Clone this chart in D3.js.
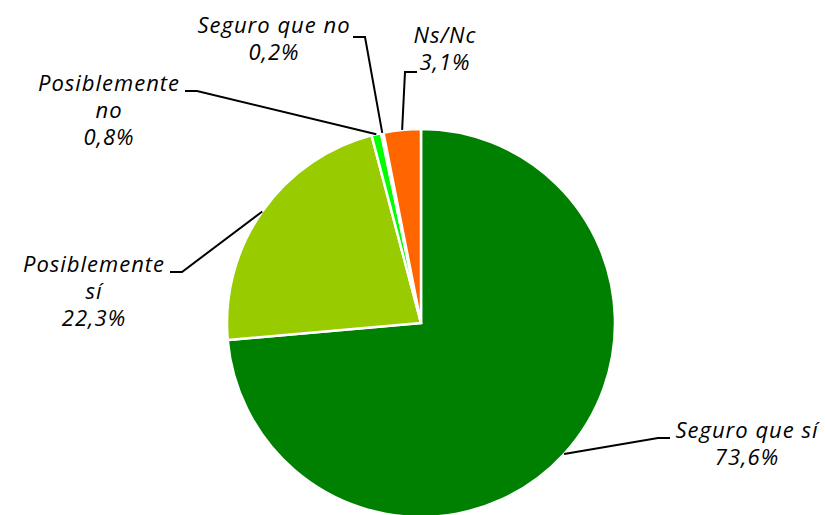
<!DOCTYPE html>
<html>
<head>
<meta charset="utf-8">
<script src="https://cdn.jsdelivr.net/npm/d3@7"></script>
<style>
  body { margin: 0; background: #fff; }
  text { font-family: "Open Sans", sans-serif; font-style: italic; font-size: 22px; letter-spacing: 1px; fill: #000; }
</style>
</head>
<body>
<div id="chart"></div>
<script>
// data
var categories = ["Seguro que sí", "Posiblemente sí", "Posiblemente no", "Seguro que no", "Ns/Nc"];
var values = [73.6, 22.3, 0.8, 0.2, 3.1];
var colors = ["#008000", "#99cc00", "#00ff00", "#ffffff", "#ff6600"];
var labelLines = [["Seguro que sí", "73,6%"], ["Posiblemente", "sí", "22,3%"], ["Posiblemente", "no", "0,8%"], ["Seguro que no", "0,2%"], ["Ns/Nc", "3,1%"]];

// label layout: text centre x, first baseline y, elbow and end of leader
var labelPos = [
  {x: 747, y: 438, elbow: [658, 438], end: [670, 438]},
  {x: 94, y: 272, elbow: [182, 272], end: [170, 272]},
  {x: 109, y: 91, elbow: [197, 91], end: [185, 91]},
  {x: 274, y: 33, elbow: [365, 37], end: [353, 37]},
  {x: 445, y: 43, elbow: [405, 72], end: [417, 72]}
];

var width = 825, height = 515;
var cx = 421, cy = 323, r = 194;

var svg = d3.select("#chart").append("svg")
    .attr("width", width)
    .attr("height", height);

var pie = d3.pie().sort(null).value(function(d) { return d; });
var arcs = pie(values);

var arc = d3.arc().innerRadius(0).outerRadius(r);

var g = svg.append("g").attr("transform", "translate(" + cx + "," + cy + ")");

g.selectAll("path")
  .data(arcs)
  .enter().append("path")
  .attr("d", arc)
  .attr("fill", function(d, i) { return colors[i]; })
  .attr("stroke", "#fff")
  .attr("stroke-width", 2.5)
  .attr("stroke-linejoin", "miter");

// leader lines + labels
arcs.forEach(function(d, i) {
  var a = (d.startAngle + d.endAngle) / 2;
  var p = [cx + r * Math.sin(a), cy - r * Math.cos(a)];
  var lp = labelPos[i];
  svg.append("polyline")
    .attr("points", [p, lp.elbow, lp.end].map(function(q) { return q.join(","); }).join(" "))
    .attr("fill", "none")
    .attr("stroke", "#000")
    .attr("stroke-width", 2);

  var t = svg.append("text")
    .attr("text-anchor", "middle")
    .attr("x", lp.x)
    .attr("y", lp.y);
  labelLines[i].forEach(function(s, j) {
    t.append("tspan").attr("x", lp.x).attr("dy", j === 0 ? 0 : 27).text(s);
  });
});
</script>
</body>
</html>
